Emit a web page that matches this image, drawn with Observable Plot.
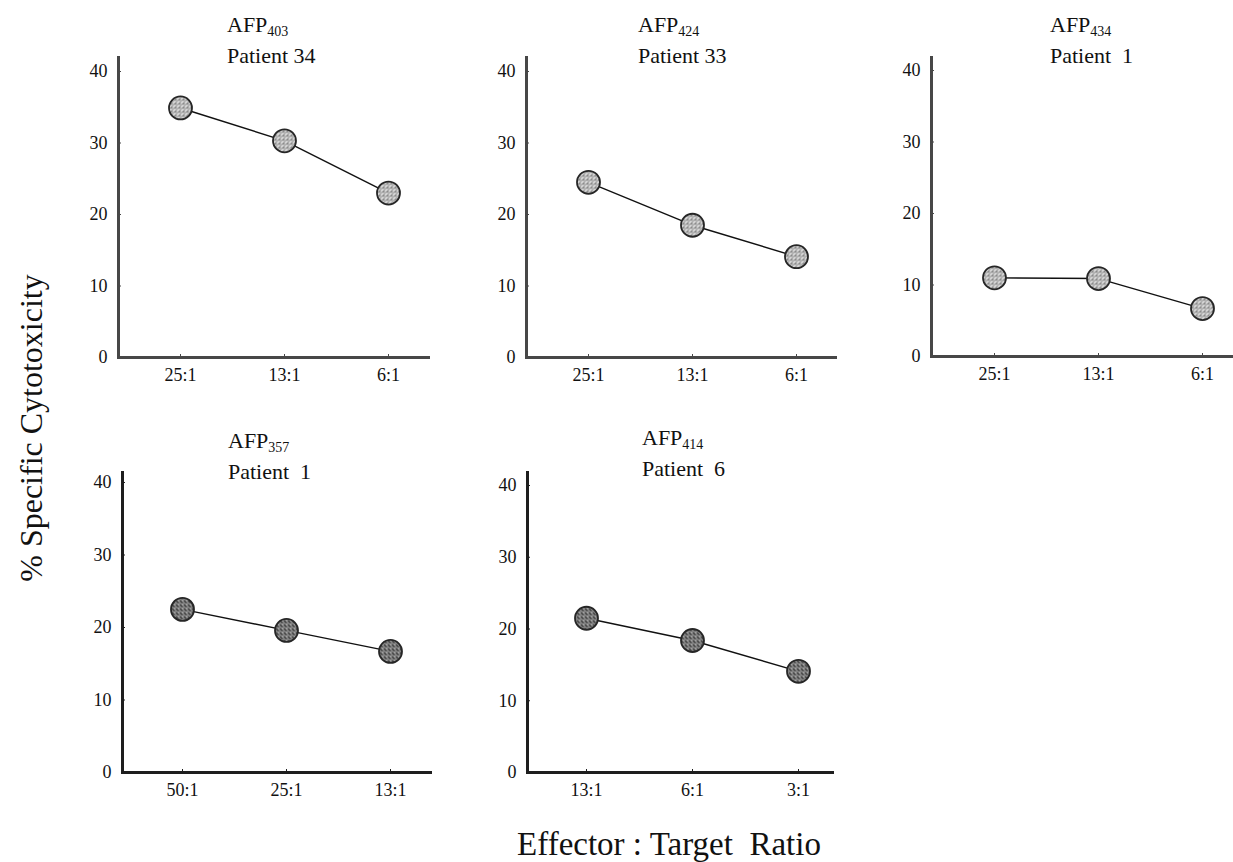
<!DOCTYPE html>
<html>
<head>
<meta charset="utf-8">
<script src="https://cdn.jsdelivr.net/npm/d3@7"></script>
<script src="https://cdn.jsdelivr.net/npm/@observablehq/plot@0.6"></script>
<style>
  html, body { margin: 0; padding: 0; background: #fff; overflow: hidden; }
  #fig { position: relative; width: 1233px; height: 862px; overflow: hidden; color: #111; }
  #fig, #fig div { font-family: "Liberation Serif", "Times New Roman", Times, serif; }
  .panel { position: absolute; }
  .title { position: absolute; font-size: 22px; line-height: 31px; white-space: pre; }
  .title sub { font-size: 14px; vertical-align: -4px; line-height: 0; }
  .ylab { position: absolute; font-size: 32px; white-space: pre; line-height: 1;
          transform: translate(-50%, -50%) rotate(-90deg); }
  .xlab { position: absolute; font-size: 33px; white-space: pre; line-height: 33px;
          transform: translateX(-50%); }
</style>
</head>
<body>
<div id="fig">
  <svg width="0" height="0" style="position:absolute">
    <defs>
      <pattern id="stipple-light" width="4" height="4" patternUnits="userSpaceOnUse">
        <rect width="4" height="4" fill="#c9c9c9"></rect>
        <rect x="0" y="0" width="1" height="1" fill="#4a4a4a"></rect>
        <rect x="2" y="1" width="1" height="1" fill="#6a6a6a"></rect>
        <rect x="1" y="3" width="1" height="1" fill="#555"></rect>
        <rect x="3" y="2" width="1" height="1" fill="#f2f2f2"></rect>
      </pattern>
      <pattern id="stipple-dark" width="4" height="4" patternUnits="userSpaceOnUse">
        <rect width="4" height="4" fill="#5e5e5e"></rect>
        <rect x="1" y="0" width="1" height="1" fill="#e8e8e8"></rect>
        <rect x="3" y="1" width="1" height="1" fill="#cfcfcf"></rect>
        <rect x="0" y="2" width="1" height="1" fill="#f4f4f4"></rect>
        <rect x="2" y="3" width="1" height="1" fill="#2a2a2a"></rect>
      </pattern>
    </defs>
  </svg>
</div>
<script>
// Percent specific cytotoxicity of CTL lines against targets, per peptide / patient
const peptides = ["403", "424", "434", "357", "414"];
const patients = ["Patient 34", "Patient 33", "Patient  1", "Patient  1", "Patient  6"];
const ratioLabels = [
  ["25:1", "13:1", "6:1"],
  ["25:1", "13:1", "6:1"],
  ["25:1", "13:1", "6:1"],
  ["50:1", "25:1", "13:1"],
  ["13:1", "6:1", "3:1"]
];
const cytotoxicity = [
  [34.9, 30.3, 23.0],
  [24.5, 18.5, 14.1],
  [11.0, 10.9, 6.7],
  [22.5, 19.6, 16.7],
  [21.5, 18.4, 14.1]
];
const yTicks = [0, 10, 20, 30, 40];
const yDomain = [0, 40];
const yTitle = "% Specific Cytotoxicity";
const xTitle = "Effector : Target  Ratio";

// Page layout of each small multiple (pixels)
const layout = [
  {axisX: 118, baseY: 357, topY: 57, y40: 71, right: 428, first: 180, last: 388, titleX: 227, titleY: 8.7, row: 0},
  {axisX: 526, baseY: 357, topY: 57, y40: 71, right: 835, first: 587, last: 796, titleX: 638, titleY: 8.7, row: 0},
  {axisX: 931, baseY: 356, topY: 57, y40: 70, right: 1245, first: 993, last: 1202, titleX: 1050, titleY: 8.7, row: 0},
  {axisX: 122, baseY: 772, topY: 472, y40: 482, right: 430, first: 182, last: 390, titleX: 228, titleY: 424.7, row: 1},
  {axisX: 527, baseY: 772, topY: 472, y40: 485, right: 832, first: 586, last: 798, titleX: 642, titleY: 421.7, row: 1}
];

const fig = document.getElementById("fig");
const serif = '"Liberation Serif", "Times New Roman", Times, serif';
const ML = 60, MR = 2, MT = 10, MB = 40;

peptides.forEach((pep, i) => {
  const L = layout[i];
  const rows = ratioLabels[i].map((r, j) => ({ratio: r, value: cytotoxicity[i][j]}));
  const axisColor = L.row === 0 ? "#474747" : "#1e1e1e";
  const width = (L.right - L.axisX) + ML + MR;
  const height = (L.baseY - L.topY) + MT + MB;

  const chart = Plot.plot({
    width, height,
    marginLeft: ML, marginRight: MR, marginTop: MT, marginBottom: MB,
    style: {
      fontFamily: serif, fontSize: "18px", color: "#111",
      background: "transparent", overflow: "visible"
    },
    x: {type: "point", domain: ratioLabels[i], padding: 0, label: null,
        insetLeft: L.first - L.axisX, insetRight: L.right - L.last},
    y: {domain: yDomain, insetTop: L.y40 - L.topY, label: null},
    marks: [
      Plot.axisY({ticks: yTicks, tickSize: -3, tickPadding: 14, tickFormat: d => String(d),
                  label: null, stroke: axisColor, fontSize: 18}),
      Plot.axisX({tickSize: -3, tickPadding: 14, label: null, stroke: axisColor, fontSize: 18}),
      Plot.frame({anchor: "left", stroke: axisColor, strokeWidth: 3}),
      Plot.frame({anchor: "bottom", stroke: axisColor, strokeWidth: 3}),
      Plot.line(rows, {x: "ratio", y: "value", stroke: "#111", strokeWidth: 1.4}),
      Plot.dot(rows, {x: "ratio", y: "value", r: 11.5,
                      fill: L.row === 0 ? "url(#stipple-light)" : "url(#stipple-dark)",
                      stroke: "#262626", strokeWidth: 1.8})
    ]
  });
  chart.classList.add("panel");
  chart.style.left = (L.axisX - ML) + "px";
  chart.style.top = (L.topY - MT) + "px";
  fig.appendChild(chart);

  const t = document.createElement("div");
  t.className = "title";
  t.style.left = L.titleX + "px";
  t.style.top = L.titleY + "px";
  t.innerHTML = "AFP<sub>" + pep + "</sub>\n" + patients[i];
  fig.appendChild(t);
});

const yl = document.createElement("div");
yl.className = "ylab";
yl.style.left = "31px";
yl.style.top = "428px";
yl.textContent = yTitle;
fig.appendChild(yl);

const xl = document.createElement("div");
xl.className = "xlab";
xl.style.left = "669px";
xl.style.top = "828px";
xl.textContent = xTitle;
fig.appendChild(xl);
</script>
</body>
</html>
